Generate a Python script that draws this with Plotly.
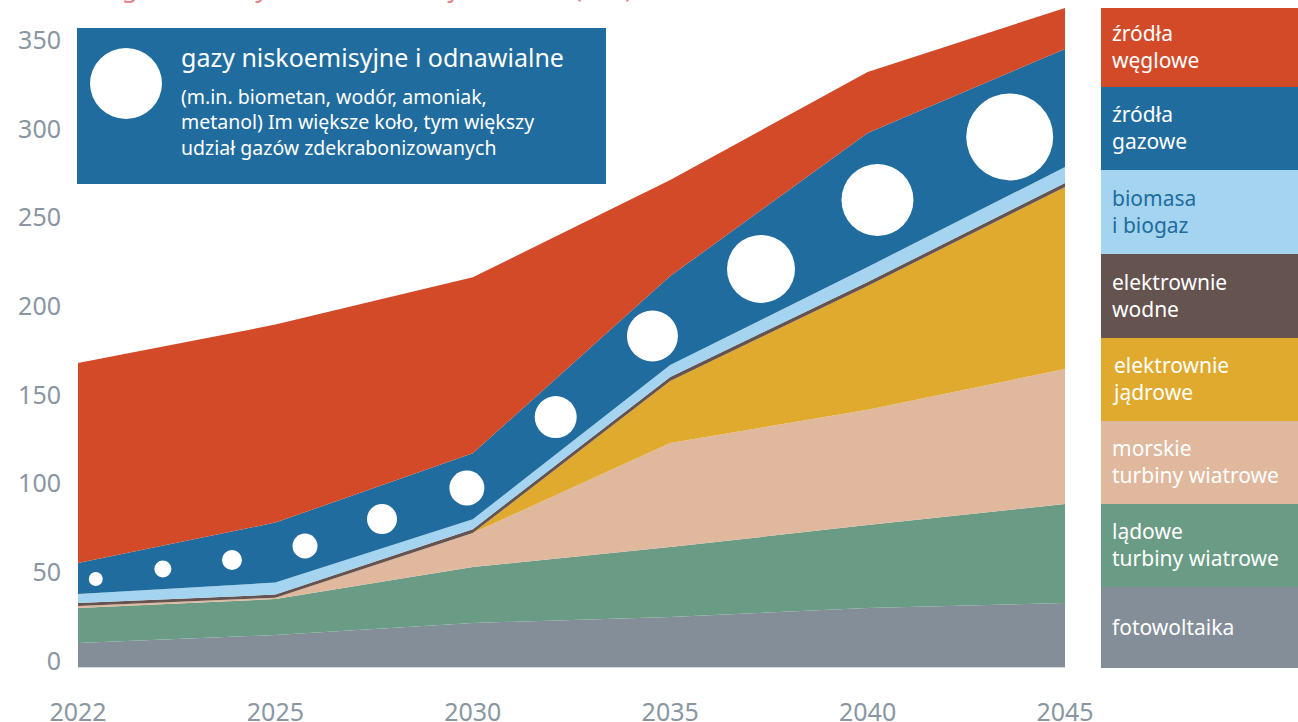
import plotly.graph_objects as go

# ---------------- data ----------------
years = ["2022", "2025", "2030", "2035", "2040", "2045"]
x_idx = [0, 1, 2, 3, 4, 5]

fotowoltaika = [13.5, 18.0, 24.8, 28.2, 33.3, 36.1]
ladowe = [19.8, 20.3, 31.6, 39.4, 46.7, 55.8]
morskie = [1.1, 0.8, 19.1, 58.7, 65.0, 76.1]
jadrowe = [0.0, 0.0, 0.0, 34.9, 69.8, 102.6]
wodne = [1.7, 1.7, 2.2, 2.3, 2.2, 2.2]
biomasa = [5.0, 6.8, 5.6, 6.7, 8.5, 9.0]
gazowe = [17.5, 33.8, 37.2, 50.2, 75.5, 66.6]
weglowe = [112.8, 111.6, 99.2, 54.1, 34.4, 23.1]

# low-emission gas bubbles (position along x index, value, size)
bubble_x = [0.09, 0.43, 0.78, 1.15, 1.54, 1.97, 2.42, 2.91, 3.46, 4.05, 4.72]
bubble_y = [49.6, 55.2, 60.3, 68.2, 83.4, 100.9, 140.9, 186.6, 224.4, 263.2, 298.8]
bubble_size = [14, 17, 20, 25, 30, 35, 42, 51, 68, 72, 87]

series_names = ["fotowoltaika", "lądowe turbiny wiatrowe", "morskie turbiny wiatrowe",
                "elektrownie jądrowe", "elektrownie wodne", "biomasa i biogaz",
                "źródła gazowe", "źródła węglowe"]
series_vals = [fotowoltaika, ladowe, morskie, jadrowe, wodne, biomasa, gazowe, weglowe]
colors = ["#838e99", "#6a9c85", "#e0b89e", "#e0aa2e", "#655350", "#a4d4f0", "#206c9e", "#d34a28"]

legend_labels = [
    ("źródła<br>węglowe", "#d34a28", "white"),
    ("źródła<br>gazowe", "#206c9e", "white"),
    ("biomasa<br>i biogaz", "#a4d4f0", "#206c9e"),
    ("elektrownie<br>wodne", "#655350", "white"),
    ("elektrownie<br>jądrowe", "#e0aa2e", "white"),
    ("morskie<br>turbiny wiatrowe", "#e0b89e", "white"),
    ("lądowe<br>turbiny wiatrowe", "#6a9c85", "white"),
    ("fotowoltaika", "#838e99", "white"),
]

# ---------------- geometry helpers ----------------
W, H = 1298, 722
L, R, T, B = 78, 233, 0, 55
PW = W - L - R
PH = H - T - B
FONT = "Noto Sans"


def px(xp):
    return (xp - L) / PW


def py(yp):
    return (H - B - yp) / PH


fig = go.Figure()
for name, vals, col in zip(series_names, series_vals, colors):
    fig.add_trace(go.Scatter(
        x=x_idx, y=vals, name=name, mode="lines",
        line=dict(width=0, color=col), fillcolor=col,
        stackgroup="one", hoverinfo="skip", showlegend=False,
    ))

fig.add_trace(go.Scatter(
    x=bubble_x, y=bubble_y, mode="markers",
    marker=dict(size=bubble_size, color="white", opacity=1, line=dict(width=0)),
    hoverinfo="skip", showlegend=False,
))

shapes = []
annotations = []

# custom legend on the right
tops = [8, 87, 170, 254, 338, 421, 504, 587, 668]
for i, (label, bg, fg) in enumerate(legend_labels):
    y0p, y1p = tops[i], tops[i + 1]
    shapes.append(dict(type="rect", xref="paper", yref="paper",
                       x0=px(1101), x1=px(1302), y0=py(y1p), y1=py(y0p),
                       fillcolor=bg, line=dict(width=0), layer="above"))
    cy = (y0p + y1p) / 2
    annotations.append(dict(text=label, xref="paper", yref="paper", align="left",
                            x=px(1110), y=py(cy - 1), xanchor="left", yanchor="middle",
                            showarrow=False, font=dict(family=FONT, size=21, color=fg)))

# info box for low-emission gases
shapes.append(dict(type="rect", xref="paper", yref="paper",
                   x0=px(77), x1=px(606), y0=py(184), y1=py(28),
                   fillcolor="#206c9e", line=dict(width=0), layer="above"))
shapes.append(dict(type="circle", xref="paper", yref="paper",
                   x0=px(90), x1=px(162), y0=py(119), y1=py(48),
                   fillcolor="white", line=dict(width=0), layer="above"))
annotations.append(dict(text="gazy niskoemisyjne i odnawialne", xref="paper", yref="paper",
                        x=px(179), y=py(57), xanchor="left", yanchor="middle", showarrow=False,
                        font=dict(family=FONT, size=25, color="white")))
annotations.append(dict(text="(m.in. biometan, wodór, amoniak,<br>metanol) Im większe koło, tym większy"
                             "<br>udział gazów zdekrabonizowanych",
                        xref="paper", yref="paper", align="left",
                        x=px(179), y=py(122), xanchor="left", yanchor="middle", showarrow=False,
                        font=dict(family=FONT, size=19.5, color="white")))

# title (cut off by the top of the picture, as in the source)
annotations.append(dict(text="Prognoza mocy zainstalowanej w Polsce (GW)", xref="paper", yref="paper",
                        x=px(78), y=py(7), xanchor="left", yanchor="bottom", showarrow=False,
                        font=dict(family=FONT, size=26, color="#e8808a")))

fig.update_layout(
    width=W, height=H,
    margin=dict(l=L, r=R, t=T, b=B),
    paper_bgcolor="white", plot_bgcolor="white",
    shapes=shapes, annotations=annotations,
    showlegend=False,
    xaxis=dict(range=[0, 5], tickvals=x_idx, ticktext=years, showgrid=False, zeroline=False,
               showline=True, linecolor="#d3d9df", linewidth=1, ticks="",
               tickfont=dict(family=FONT, size=25, color="#8a96a2"),
               ticklabelstandoff=23, automargin=False, fixedrange=True),
    yaxis=dict(range=[0, PH / 1.774], tickvals=[0, 50, 100, 150, 200, 250, 300, 350],
               showgrid=False, zeroline=False, showline=False, ticks="",
               tickfont=dict(family=FONT, size=25, color="#8a96a2"),
               ticklabelstandoff=16, ticklabelshift=-6, automargin=False, fixedrange=True),
)

fig.write_html("out.html", config={"displayModeBar": False},
               post_script="document.body.style.margin='0';document.body.style.overflow='hidden';")
